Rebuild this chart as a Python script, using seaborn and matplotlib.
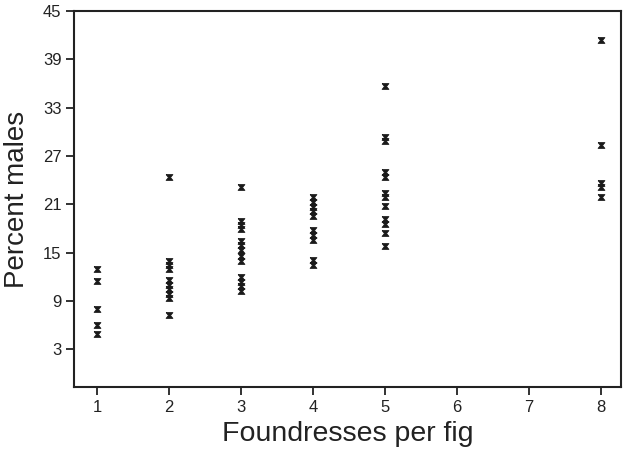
import numpy as np
import pandas as pd
import seaborn as sns
import matplotlib.pyplot as plt
from matplotlib.path import Path

# Percent males per fig, grouped by number of foundresses
one_foundress = [12.9, 11.5, 8.0, 6.0, 4.9]
two_foundresses = [24.4, 13.9, 13.4, 12.9, 11.6, 11.0, 10.5, 9.8, 9.3, 7.2]
three_foundresses = [23.1, 18.9, 18.4, 17.9, 16.4, 15.9, 15.3, 14.6, 14.0,
                     12.0, 11.4, 10.8, 10.2]
four_foundresses = [21.9, 21.3, 20.7, 20.1, 19.5, 17.8, 17.2, 16.5, 14.1, 13.5]
five_foundresses = [35.7, 29.4, 28.9, 25.0, 24.4, 22.4, 21.9, 20.8, 19.2,
                    18.6, 17.4, 15.8]
eight_foundresses = [41.4, 28.3, 23.6, 23.1, 21.9]

x_ticks = [1, 2, 3, 4, 5, 6, 7, 8]
y_ticks = [3, 9, 15, 21, 27, 33, 39, 45]

groups = {1: one_foundress, 2: two_foundresses, 3: three_foundresses,
          4: four_foundresses, 5: five_foundresses, 8: eight_foundresses}
df = pd.DataFrame(
    [(k, v) for k, vals in groups.items() for v in vals],
    columns=['foundresses', 'percent_males']
)

sns.set_style('ticks')
plt.rcParams['font.family'] = ['Liberation Sans', 'DejaVu Sans']

# hourglass-shaped marker like the original
hourglass = Path([(-1, 0.85), (1, 0.85), (0.3, 0), (1, -0.85),
                  (-1, -0.85), (-0.3, 0), (-1, 0.85)])

fig = plt.figure(figsize=(6.24, 4.5), dpi=100)
ax = fig.add_axes([0.1186, 0.14, 0.8764, 0.8356])
sns.scatterplot(data=df, x='foundresses', y='percent_males', ax=ax,
                marker=hourglass, s=24, color='#1a1a1a',
                edgecolor='#1a1a1a', linewidth=0.6)

ax.set_xlim(0.68, 8.28)
ax.set_ylim(-1.7, 45)
ax.set_xticks(x_ticks)
ax.set_yticks(y_ticks)
ax.tick_params(axis='both', direction='out', length=6, width=1.3,
               labelsize=12, colors='#222222', pad=3)
for sp in ax.spines.values():
    sp.set_linewidth(1.5)
    sp.set_color('#222222')
    sp.set_visible(True)

ax.set_xlabel('Foundresses per fig', fontsize=20.5, color='#222222', labelpad=5)
ax.set_ylabel('Percent males', fontsize=20, color='#222222', labelpad=9)

fig.savefig('out.png', dpi=100)
plt.close(fig)
